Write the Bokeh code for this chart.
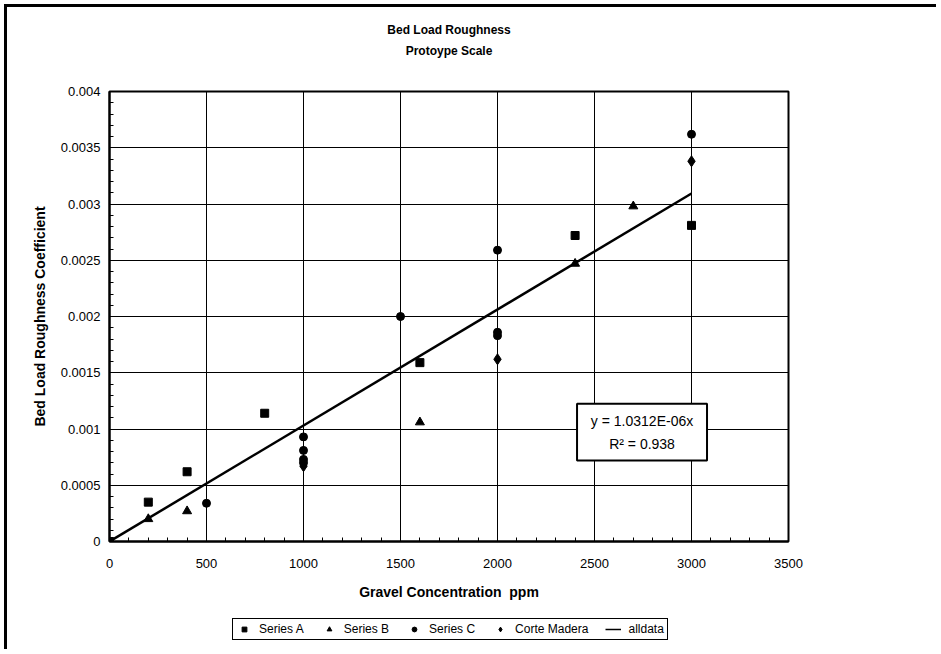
import numpy as np
from bokeh.plotting import figure
from bokeh.layouts import column
from bokeh.models import (Range1d, FixedTicker, CustomJSTickFormatter, Legend, LegendItem,
                          BoxAnnotation, Label, Title, InlineStyleSheet)
from bokeh.embed import file_html
from bokeh.resources import INLINE

# ---- data ----
series_a_x = [0, 200, 400, 800, 1600, 2400, 3000]
series_a_y = [0.0, 0.00035, 0.00062, 0.00114, 0.00159, 0.00272, 0.00281]
series_b_x = [200, 400, 1600, 2400, 2700]
series_b_y = [0.0002, 0.00027, 0.00106, 0.00247, 0.00298]
series_c_x = [500, 1000, 1000, 1000, 1000, 1500, 2000, 2000, 2000, 3000]
series_c_y = [0.00034, 0.00093, 0.00081, 0.00073, 0.0007, 0.0020, 0.00259, 0.00186, 0.00183, 0.00362]
corte_x = [1000, 2000, 3000]
corte_y = [0.00067, 0.00162, 0.00338]
fit_slope = 1.0312e-06
fit_r2 = 0.938

x_ticks = [0, 500, 1000, 1500, 2000, 2500, 3000, 3500]
x_tick_labels = ["0", "500", "1000", "1500", "2000", "2500", "3000", "3500"]
y_ticks = [0.0, 0.0005, 0.001, 0.0015, 0.002, 0.0025, 0.003, 0.0035, 0.004]
y_tick_labels = ["0", "0.0005", "0.001", "0.0015", "0.002", "0.0025", "0.003", "0.0035", "0.004"]
legend_labels = ["Series A", "Series B", "Series C", "Corte Madera", "alldata"]

FONT = "Liberation Sans"

p = figure(width=932, height=600, output_backend="svg", toolbar_location=None,
           x_range=Range1d(0, 3500), y_range=Range1d(0, 0.004),
           min_border_left=102, min_border_right=151, min_border_top=84, min_border_bottom=66,
           background_fill_color="white", border_fill_color="white")
p.title = None
p.outline_line_color = "black"
p.outline_line_width = 2
p.outline_line_alpha = 1

# titles (first added sits closest to the plot)
p.add_layout(Title(text=" ", text_font=FONT, text_font_size="12px", standoff=18), "above")
p.add_layout(Title(text="Protoype Scale", align="center", text_font=FONT, text_font_size="12px",
                   text_font_style="bold", standoff=0, text_color="black"), "above")
p.add_layout(Title(text="Bed Load Roughness", align="center", text_font=FONT, text_font_size="12px",
                   text_font_style="bold", standoff=10, text_color="black"), "above")

# ticks
x_minor = list(np.arange(0, 3501, 100))
y_minor = list(np.round(np.arange(0, 0.00401, 0.0001), 6))
p.xaxis.ticker = FixedTicker(ticks=x_ticks, minor_ticks=x_minor)
p.yaxis.ticker = FixedTicker(ticks=y_ticks, minor_ticks=y_minor)
fmt_code = """
let best = 0, d = Infinity;
for (let i = 0; i < tvals.length; i++) {
  const dd = Math.abs(tvals[i] - tick);
  if (dd < d) { d = dd; best = i; }
}
return tlabels[best];
"""
p.xaxis.formatter = CustomJSTickFormatter(args=dict(tvals=x_ticks, tlabels=x_tick_labels), code=fmt_code)
p.yaxis.formatter = CustomJSTickFormatter(args=dict(tvals=y_ticks, tlabels=y_tick_labels), code=fmt_code)

for ax in (p.xaxis, p.yaxis):
    ax.axis_line_color = "black"
    ax.axis_line_width = 2
    ax.major_tick_in = 0
    ax.major_tick_out = 0
    ax.minor_tick_in = 4
    ax.minor_tick_out = 0
    ax.minor_tick_line_color = "black"
    ax.major_label_text_font = FONT
    ax.major_label_text_font_size = "13px"
    ax.major_label_text_color = "black"
    ax.axis_label_text_font = FONT
    ax.axis_label_text_font_size = "14px"
    ax.axis_label_text_font_style = "bold"
    ax.axis_label_text_color = "black"

p.xaxis.axis_label = "Gravel Concentration\u00a0 ppm"
p.yaxis.axis_label = "Bed Load Roughness Coefficient"
p.xaxis.major_label_standoff = 17
p.xaxis.axis_label_standoff = 13
p.yaxis.major_label_standoff = 9
p.yaxis.axis_label_standoff = 10

p.xgrid.ticker = FixedTicker(ticks=x_ticks)
p.ygrid.ticker = FixedTicker(ticks=y_ticks)
for g in (p.xgrid, p.ygrid):
    g.grid_line_color = "black"
    g.grid_line_width = 1
    g.grid_line_alpha = 1

# marker styles
sty_a = dict(marker="square", size=8, fill_color="black", line_color="black")
sty_b = dict(marker="triangle", size=9, fill_color="black", line_color="black")
sty_c = dict(marker="circle", size=8, fill_color="black", line_color="black")
sty_cm = dict(marker="diamond", size=11, fill_color="black", line_color="black")
sty_fit = dict(line_color="black", line_width=2.5)

# fit line
fit_x = [0, max(series_a_x + series_b_x + series_c_x + corte_x)]
fit_y = [fit_slope * v for v in fit_x]
p.line(fit_x, fit_y, **sty_fit)

p.scatter(series_a_x, series_a_y, **sty_a)
p.scatter(series_b_x, series_b_y, **sty_b)
p.scatter(series_c_x, series_c_y, **sty_c)
p.scatter(corte_x, corte_y, **sty_cm)

# equation box
box = BoxAnnotation(left=2410, right=3080, bottom=0.00072, top=0.001225,
                    fill_color="white", fill_alpha=1, line_color="black", line_width=2, line_alpha=1)
p.add_layout(box)
p.add_layout(Label(x=2745, y=0.00107, text=f"y = {fit_slope:.4E}x", text_align="center",
                   text_baseline="middle", text_font=FONT, text_font_size="14px", text_color="black"))
p.add_layout(Label(x=2745, y=0.00087, text=f"R\u00b2 = {fit_r2}", text_align="center",
                   text_baseline="middle", text_font=FONT, text_font_size="14px", text_color="black"))

# ---- legend strip below the chart (its own view window shows none of the data) ----
q = figure(width=932, height=45, output_backend="svg", toolbar_location=None,
           x_range=Range1d(-2, -1), y_range=Range1d(-2, -1),
           x_axis_location=None, y_axis_location=None,
           min_border_left=0, min_border_right=0, min_border_top=0, min_border_bottom=0,
           background_fill_color="white", border_fill_color="white")
q.grid.visible = False
q.outline_line_color = None
q.title = None
l_a = q.scatter(series_a_x, series_a_y, **sty_a)
l_b = q.scatter(series_b_x, series_b_y, **sty_b)
l_c = q.scatter(series_c_x, series_c_y, **sty_c)
l_cm = q.scatter(corte_x, corte_y, marker="diamond", size=9, fill_color="black", line_color="black")
l_fit = q.line(fit_x, fit_y, line_color="black", line_width=1.5)

legend = Legend(items=[LegendItem(label=t, renderers=[r]) for t, r in
                       zip(legend_labels, [l_a, l_b, l_c, l_cm, l_fit])],
                orientation="horizontal", location=(123, 12))
legend.label_text_font = FONT
legend.label_text_font_size = "12px"
legend.label_text_color = "black"
legend.border_line_color = "black"
legend.border_line_width = 1
legend.border_line_alpha = 1
legend.background_fill_color = "white"
legend.background_fill_alpha = 1
legend.glyph_width = 16
legend.glyph_height = 12
legend.label_standoff = 7
legend.spacing = 17
legend.padding = 3
legend.margin = 0
legend.label_height = 12
q.add_layout(legend)

layout = column(p, q, spacing=0)
layout.margin = (7, 0, 0, 7)
layout.stylesheets = [InlineStyleSheet(css=":host { box-shadow: -3px -3px 0 0 black; }")]

open("out.html", "w").write(file_html(layout, INLINE))
